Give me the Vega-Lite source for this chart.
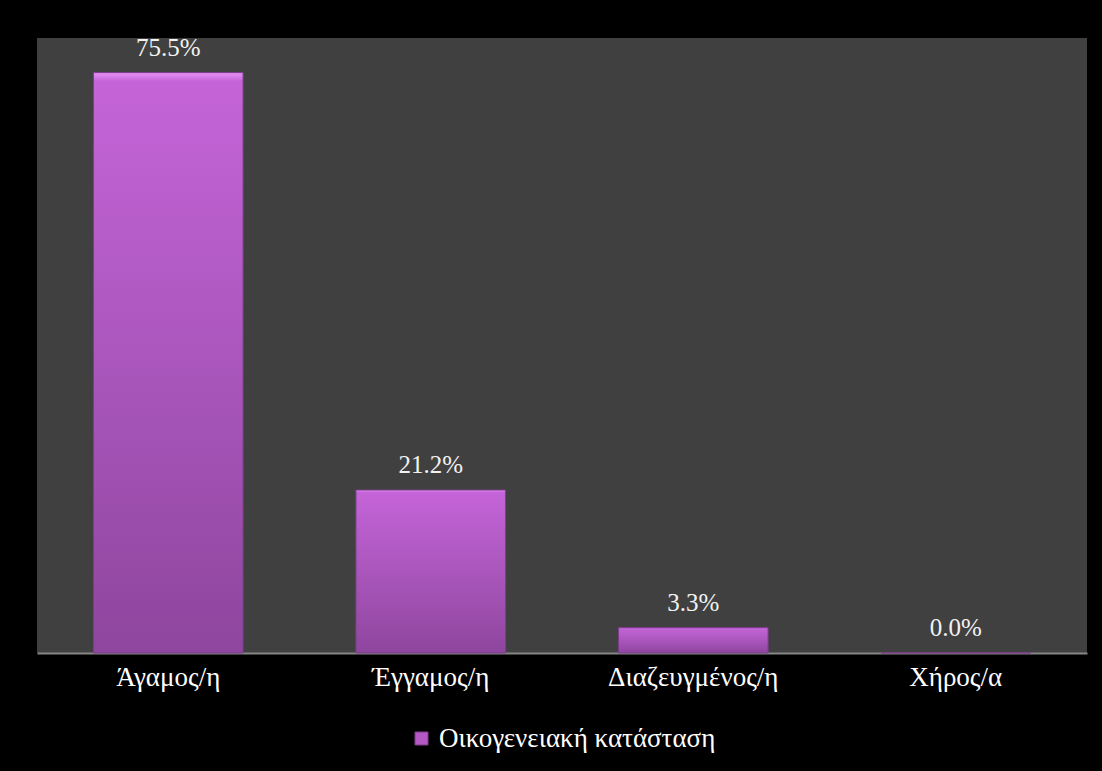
{
  "$schema": "https://vega.github.io/schema/vega-lite/v6.json",
  "autosize": "none",
  "width": 1050,
  "height": 615,
  "padding": {"left": 37, "top": 38, "right": 15, "bottom": 118},
  "background": "#000000",
  "config": {
    "view": {"fill": "#404040", "stroke": null},
    "font": "Liberation Serif"
  },
  "data": {
    "values": [
      {"category": "Άγαμος/η", "value": 0.755, "series": "Οικογενειακή κατάσταση"},
      {"category": "Έγγαμος/η", "value": 0.212, "series": "Οικογενειακή κατάσταση"},
      {"category": "Διαζευγμένος/η", "value": 0.033, "series": "Οικογενειακή κατάσταση"},
      {"category": "Χήρος/α", "value": 0.0, "series": "Οικογενειακή κατάσταση"}
    ]
  },
  "encoding": {
    "x": {
      "field": "category",
      "type": "nominal",
      "sort": null,
      "scale": {"paddingInner": 0.43, "paddingOuter": 0.215},
      "axis": {
        "title": null,
        "labelAngle": 0,
        "labelFont": "Liberation Serif",
        "labelFontSize": 27,
        "labelColor": "#ffffff",
        "labelPadding": 11,
        "ticks": false,
        "domainColor": "#868686",
        "domainWidth": 2,
        "grid": false
      }
    },
    "y": {
      "field": "value",
      "type": "quantitative",
      "scale": {"domain": [0, 0.8], "nice": false},
      "axis": null
    }
  },
  "layer": [
    {
      "mark": {"type": "bar"},
      "encoding": {
        "color": {
          "field": "series",
          "type": "nominal",
          "scale": {"range": ["#b458c6"]},
          "legend": {
            "title": null,
            "orient": "none",
            "legendX": 371,
            "legendY": 687,
            "direction": "horizontal",
            "symbolType": "square",
            "symbolSize": 170,
            "symbolStrokeColor": "#7a3a88",
            "symbolStrokeWidth": 1,
            "labelFont": "Liberation Serif",
            "labelFontSize": 27,
            "labelColor": "#ffffff",
            "labelLimit": 400,
            "labelOffset": 4
          }
        }
      }
    },
    {
      "mark": {
        "type": "bar",
        "stroke": "#7a3c88",
        "strokeWidth": 1,
        "color": {
          "gradient": "linear",
          "x1": 0, "y1": 0, "x2": 0, "y2": 1,
          "stops": [
            {"offset": 0, "color": "#e692f4"},
            {"offset": 0.015, "color": "#c464d8"},
            {"offset": 0.5, "color": "#aa56bc"},
            {"offset": 1, "color": "#8e469e"}
          ]
        }
      }
    },
    {
      "mark": {
        "type": "text",
        "baseline": "bottom",
        "dy": -12,
        "font": "Liberation Serif",
        "fontSize": 25,
        "color": "#f2f2f2"
      },
      "encoding": {
        "text": {"field": "value", "type": "quantitative", "format": ".1%"}
      }
    }
  ]
}
